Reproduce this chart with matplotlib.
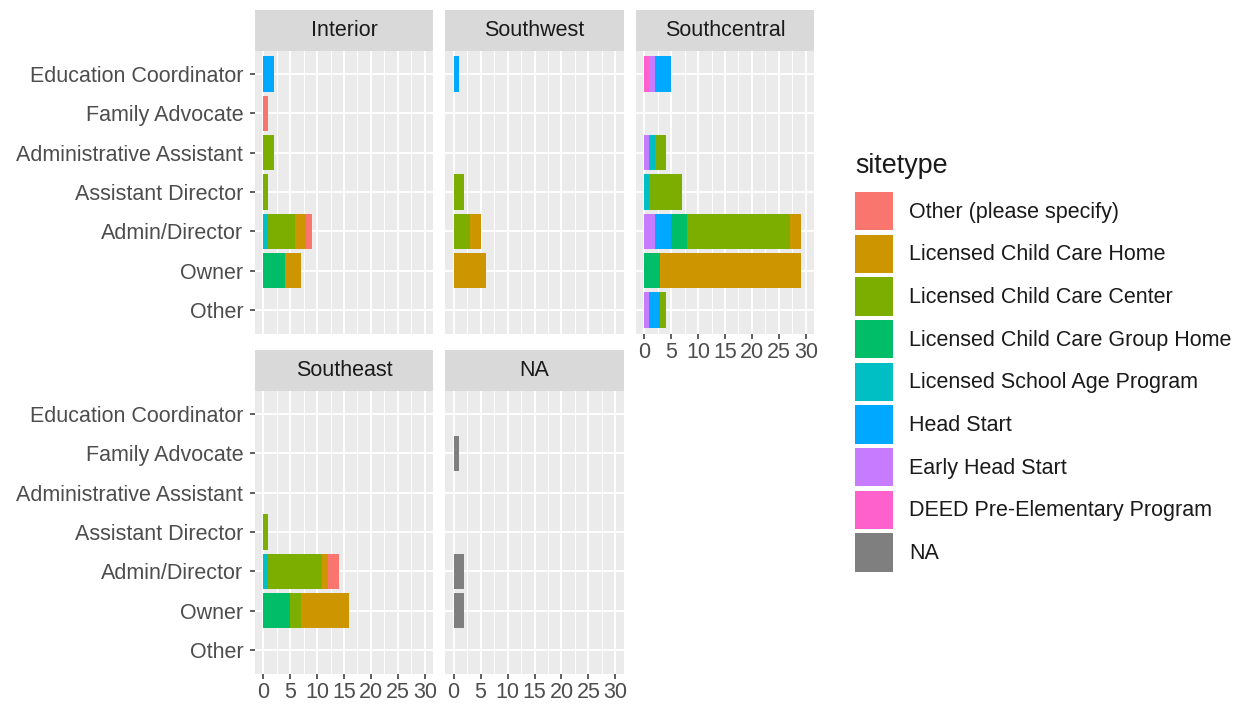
import numpy as np
import matplotlib
matplotlib.use("Agg")
import matplotlib.pyplot as plt
from matplotlib.patches import Patch

plt.rcParams['font.family'] = ['Liberation Sans', 'DejaVu Sans']

roles = ["Education Coordinator", "Family Advocate", "Administrative Assistant",
         "Assistant Director", "Admin/Director", "Owner", "Other"]

sitetypes = ["Other (please specify)", "Licensed Child Care Home",
             "Licensed Child Care Center", "Licensed Child Care Group Home",
             "Licensed School Age Program", "Head Start", "Early Head Start",
             "DEED Pre-Elementary Program", "NA"]

colors = ["#F8766D", "#CD9600", "#7CAE00", "#00BE67", "#00BFC4",
          "#00A9FF", "#C77CFF", "#FF61CC", "#7F7F7F"]

# rows = roles, columns = sitetypes (same order as above)
interior = [
    [0, 0, 0, 0, 0, 2, 0, 0, 0],
    [1, 0, 0, 0, 0, 0, 0, 0, 0],
    [0, 0, 2, 0, 0, 0, 0, 0, 0],
    [0, 0, 1, 0, 0, 0, 0, 0, 0],
    [1, 2, 5, 0, 1, 0, 0, 0, 0],
    [0, 3, 0, 4, 0, 0, 0, 0, 0],
    [0, 0, 0, 0, 0, 0, 0, 0, 0],
]
southwest = [
    [0, 0, 0, 0, 0, 1, 0, 0, 0],
    [0, 0, 0, 0, 0, 0, 0, 0, 0],
    [0, 0, 0, 0, 0, 0, 0, 0, 0],
    [0, 0, 2, 0, 0, 0, 0, 0, 0],
    [0, 2, 3, 0, 0, 0, 0, 0, 0],
    [0, 6, 0, 0, 0, 0, 0, 0, 0],
    [0, 0, 0, 0, 0, 0, 0, 0, 0],
]
southcentral = [
    [0, 0, 0, 0, 0, 3, 1, 1, 0],
    [0, 0, 0, 0, 0, 0, 0, 0, 0],
    [0, 0, 2, 0, 1, 0, 1, 0, 0],
    [0, 0, 6, 0, 1, 0, 0, 0, 0],
    [0, 2, 19, 3, 0, 3, 2, 0, 0],
    [0, 26, 0, 3, 0, 0, 0, 0, 0],
    [0, 0, 1, 0, 0, 2, 1, 0, 0],
]
southeast = [
    [0, 0, 0, 0, 0, 0, 0, 0, 0],
    [0, 0, 0, 0, 0, 0, 0, 0, 0],
    [0, 0, 0, 0, 0, 0, 0, 0, 0],
    [0, 0, 1, 0, 0, 0, 0, 0, 0],
    [2, 1, 10, 0, 1, 0, 0, 0, 0],
    [0, 9, 2, 5, 0, 0, 0, 0, 0],
    [0, 0, 0, 0, 0, 0, 0, 0, 0],
]
na_region = [
    [0, 0, 0, 0, 0, 0, 0, 0, 0],
    [0, 0, 0, 0, 0, 0, 0, 0, 1],
    [0, 0, 0, 0, 0, 0, 0, 0, 0],
    [0, 0, 0, 0, 0, 0, 0, 0, 0],
    [0, 0, 0, 0, 0, 0, 0, 0, 2],
    [0, 0, 0, 0, 0, 0, 0, 0, 2],
    [0, 0, 0, 0, 0, 0, 0, 0, 0],
]

W, H = 1247, 706
fig = plt.figure(figsize=(W / 100, H / 100), dpi=100)

FS = 15.5
xticks = [0, 5, 10, 15, 20, 25, 30]


def px_axes(x0, y0, x1, y1):
    return fig.add_axes([x0 / W, 1 - y1 / H, (x1 - x0) / W, (y1 - y0) / H])


def panel(title, data, x0, y0, show_x, show_y):
    x1 = x0 + 178
    y1 = y0 + 283
    ax = px_axes(x0, y0, x1, y1)
    ax.set_facecolor("#EBEBEB")
    for s in ax.spines.values():
        s.set_visible(False)
    data = np.array(data, dtype=float)
    ypos = np.arange(len(roles))
    left = np.zeros(len(roles))
    # ggplot stacks the last level first (nearest zero)
    for j in range(len(sitetypes) - 1, -1, -1):
        ax.barh(ypos, data[:, j], left=left, height=0.9, color=colors[j], lw=0)
        left += data[:, j]
    ax.set_xlim(-1.5, 31.5)
    ax.set_ylim(len(roles) - 0.4, -0.6)
    ax.set_xticks(xticks)
    ax.set_xticks(np.arange(2.5, 31, 5), minor=True)
    ax.set_yticks(ypos)
    ax.set_axisbelow(True)
    ax.grid(which="major", color="white", lw=1.3)
    ax.grid(which="minor", axis="x", color="white", lw=0.65)
    ax.tick_params(which="minor", length=0)
    ax.tick_params(which="major", color="#333333", length=3.5, width=1.1,
                   labelsize=FS, labelcolor="#4D4D4D", pad=2.5)
    ax.tick_params(axis="y", pad=5)
    if show_x:
        ax.set_xticklabels([str(t) for t in xticks])
    else:
        ax.tick_params(axis="x", which="major", length=0, labelbottom=False)
    if show_y:
        ax.set_yticklabels(roles)
    else:
        ax.tick_params(axis="y", which="major", length=0, labelleft=False)

    st = px_axes(x0, y0 - 41, x1, y0)
    st.set_facecolor("#D9D9D9")
    for s in st.spines.values():
        s.set_visible(False)
    st.set_xticks([])
    st.set_yticks([])
    st.text(0.5, 0.5, title, ha="center", va="center", fontsize=FS,
            color="#1A1A1A", transform=st.transAxes)
    return ax


panel("Interior", interior, 255, 50.5, False, True)
panel("Southwest", southwest, 445.5, 50.5, False, False)
panel("Southcentral", southcentral, 636, 50.5, True, False)
panel("Southeast", southeast, 255, 390.5, True, True)
panel("NA", na_region, 445.5, 390.5, True, False)

handles = [Patch(facecolor=c, edgecolor="none") for c in colors]
leg = fig.legend(handles, sitetypes, loc="upper left",
                 bbox_to_anchor=(855 / W, 1 - 192 / H), frameon=False,
                 fontsize=FS, handlelength=1.77, handleheight=2.35,
                 labelspacing=0.21, handletextpad=0.75, borderpad=0,
                 borderaxespad=0)
for t in leg.get_texts():
    t.set_color("#1A1A1A")
fig.text(855 / W, 1 - 166 / H, "sitetype", fontsize=FS * 1.25,
         color="#1A1A1A", ha="left", va="center")

fig.savefig("out.png", dpi=100)
